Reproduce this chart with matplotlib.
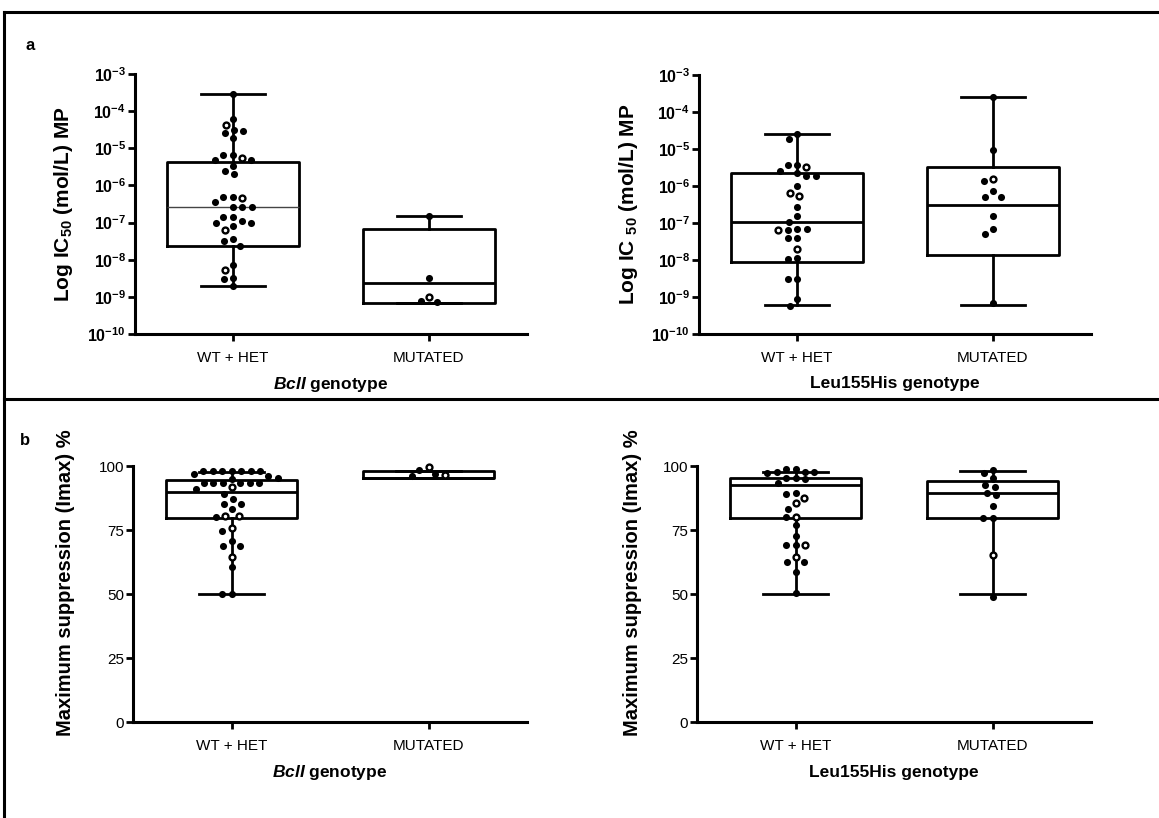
import numpy as np
import matplotlib
matplotlib.use("Agg")
import matplotlib.pyplot as plt
from matplotlib.lines import Line2D

plt.rcParams.update({
    "font.family": ["Liberation Sans", "DejaVu Sans"],
    "mathtext.fontset": "custom",
    "mathtext.rm": "Liberation Sans",
    "mathtext.it": "Liberation Sans:italic",
    "mathtext.bf": "Liberation Sans:bold",
    "mathtext.bfit": "Liberation Sans:bold:italic",
    "mathtext.default": "regular",
})

# ---------------- data ----------------
categories = ["WT + HET", "MUTATED"]
ic50_ticks = [1e-10, 1e-9, 1e-8, 1e-7, 1e-6, 1e-5, 1e-4, 1e-3]
imax_ticks = [0, 25, 50, 75, 100]

# Panel a, BclI genotype: IC50 (mol/L)
bcl_ic50_wt_filled = [2.95e-4, 2.95e-5, 3.16e-5, 2.63e-5, 1.9e-5, 6.3e-5, 6.6e-6, 6.6e-6,
                      4.8e-6, 4.8e-6, 3.4e-6, 2.0e-6, 2.45e-6, 3.6e-7, 4.9e-7, 4.9e-7,
                      2.7e-7, 2.7e-7, 2.7e-7, 1.4e-7, 1.4e-7, 9.5e-8, 8.3e-8, 1.1e-7,
                      1.0e-7, 3.7e-8, 3.2e-8, 2.4e-8, 7.1e-9, 3.3e-9, 3.0e-9, 1.95e-9]
bcl_ic50_wt_open = [4.3e-5, 5.6e-6, 4.7e-7, 6.3e-8, 5.2e-9]
bcl_ic50_mut_filled = [1.5e-7, 3.3e-9, 7.2e-10, 7.6e-10]
bcl_ic50_mut_open = [1.0e-9]
# box stats: whislo, q1, med, q3, whishi
bcl_ic50_wt_box = [1.95e-9, 2.3e-8, 2.6e-7, 4.3e-6, 2.95e-4]
bcl_ic50_mut_box = [6.9e-10, 6.9e-10, 2.3e-9, 6.9e-8, 1.5e-7]

# Panel a, Leu155His genotype: IC50 (mol/L)
leu_ic50_wt_filled = [2.6e-5, 1.86e-5, 3.7e-6, 3.7e-6, 2.6e-6, 1.9e-6, 1.9e-6, 2.2e-6,
                      1.0e-6, 2.7e-7, 1.5e-7, 1.05e-7, 6.9e-8, 6.9e-8, 6.5e-8, 3.9e-8,
                      3.9e-8, 1.1e-8, 1.07e-8, 3.0e-9, 3.0e-9, 8.7e-10, 5.8e-10]
leu_ic50_wt_open = [3.3e-6, 6.6e-7, 5.4e-7, 6.5e-8, 1.95e-8]
leu_ic50_mut_filled = [2.5e-4, 9.3e-6, 1.4e-6, 7.4e-7, 5.1e-7, 5.1e-7, 1.5e-7, 6.9e-8,
                       5.2e-8, 7.1e-10]
leu_ic50_mut_open = [1.55e-6]
leu_ic50_wt_box = [6.0e-10, 9.1e-9, 1.05e-7, 2.3e-6, 2.6e-5]
leu_ic50_mut_box = [6.0e-10, 1.35e-8, 3.1e-7, 3.3e-6, 2.6e-4]

# Panel b, BclI genotype: Imax (%)
bcl_imax_wt_filled = [98, 98, 98, 98, 98, 98, 98, 97, 94.8, 95.4, 96.1, 93.5, 93.5, 93.5,
                      93.5, 93.5, 93.5, 91, 89.1, 87.1, 85.2, 85.2, 83.1, 80, 74.7, 70.8,
                      68.75, 68.75, 60.7, 50, 50]
bcl_imax_wt_open = [91.7, 80.5, 80.5, 75.7, 64.6]
bcl_imax_mut_filled = [96.0, 96.8, 98.5]
bcl_imax_mut_open = [96.5, 99.5]
bcl_imax_wt_box = [50, 79.8, 90, 94.5, 97.8]
bcl_imax_mut_box = [95.2, 95.2, 95.2, 98, 98]

# Panel b, Leu155His genotype: Imax (%)
leu_imax_wt_filled = [97.7, 98.7, 97.7, 98.7, 97.1, 97.7, 95.4, 94.8, 95.4, 93.5, 89.1,
                      89.3, 83.2, 79.9, 77, 72.8, 69.1, 69.1, 62.6, 62.6, 58.5, 50.5]
leu_imax_wt_open = [87.6, 85.4, 80.2, 69.0, 64.3]
leu_imax_mut_filled = [98.4, 95.2, 97.1, 91.9, 92.6, 89.6, 88.7, 84.5, 79.8, 79.8, 49.0]
leu_imax_mut_open = [65.2]
leu_imax_wt_box = [50, 79.8, 92.6, 95.4, 97.8]
leu_imax_mut_box = [50, 79.8, 89.6, 94.1, 98.0]

# ---------------- figure ----------------
W, H = 1159, 818
fig = plt.figure(figsize=(W / 100, H / 100), dpi=100)


def axes_px(x0, x1, ytop, ybot):
    return fig.add_axes([x0 / W, 1 - ybot / H, (x1 - x0) / W, (ybot - ytop) / H])


axA1 = axes_px(135, 527, 74, 334)
axA2 = axes_px(699, 1091, 75, 334)
axB1 = axes_px(133, 527, 466, 722)
axB2 = axes_px(697, 1091, 466, 722)

# frame lines
for (xs, ys) in [((4, W), (12, 12)), ((4, 4), (12, H)), ((4, W), (399, 399))]:
    fig.add_artist(Line2D([x / W for x in xs], [1 - y / H for y in ys],
                          transform=fig.transFigure, color="black", lw=2.2))

fig.text(30 / W, 1 - 45 / H, "a", fontsize=12, fontweight="bold", ha="center", va="center")
fig.text(25 / W, 1 - 440 / H, "b", fontsize=12, fontweight="bold", ha="center", va="center")


def style(ax, log):
    for s in ("top", "right"):
        ax.spines[s].set_visible(False)
    for s in ("left", "bottom"):
        ax.spines[s].set_linewidth(2.2)
    ax.set_xlim(-0.5, 1.5)
    ax.set_xticks([0, 1])
    ax.set_xticklabels(categories, fontsize=11)
    ax.tick_params(axis="x", length=5, width=2, pad=7)
    ax.tick_params(axis="y", length=5, width=2, pad=1.5)
    if log:
        ax.set_yscale("log")
        ax.set_ylim(ic50_ticks[0], ic50_ticks[-1])
        ax.set_yticks(ic50_ticks)
        ax.set_yticklabels([r"$10^{%d}$" % int(round(np.log10(t))) for t in ic50_ticks],
                           fontsize=11.5, fontweight="bold")
        ax.yaxis.set_minor_locator(matplotlib.ticker.NullLocator())
    else:
        ax.set_ylim(imax_ticks[0], imax_ticks[-1])
        ax.set_yticks(imax_ticks)
        ax.set_yticklabels([str(t) for t in imax_ticks], fontsize=11)


def draw_box(ax, pos, stats, med_lw=2.0, med_color="black"):
    lo, q1, med, q3, hi = stats
    ax.bxp([dict(whislo=lo, q1=q1, med=med, q3=q3, whishi=hi, fliers=[])],
           positions=[pos], widths=0.67, capwidths=0.33, showfliers=False,
           boxprops=dict(color="black", lw=2.0),
           whiskerprops=dict(color="black", lw=2.0),
           capprops=dict(color="black", lw=2.0),
           medianprops=dict(color=med_color, lw=med_lw),
           manage_ticks=False)


def swarm(ax, pos, filled, opened, d=9.5, dy_lim=7.0):
    vals = list(filled) + list(opened)
    kinds = [True] * len(filled) + [False] * len(opened)
    pts = ax.transData.transform(np.column_stack([np.full(len(vals), pos), vals]))
    cx = pts[0, 0]
    order = np.argsort(-pts[:, 1])
    placed = []
    xs = np.zeros(len(vals))
    for i in order:
        y = pts[i, 1]
        intervals = []
        for (px, py) in placed:
            dy = abs(py - y)
            if dy < dy_lim:
                half = d * np.sqrt(1 - (dy / dy_lim) ** 2 * 0.5)
                intervals.append((px - half, px + half))
        cands = [0.0] + [e for iv in intervals for e in iv]
        cands.sort(key=lambda c: (abs(c), c))
        chosen = 0.0
        for c in cands:
            if all(not (a + 1e-6 < c < b - 1e-6) for a, b in intervals):
                chosen = c
                break
        placed.append((chosen, y))
        xs[i] = chosen
    for i, v in enumerate(vals):
        xd = ax.transData.inverted().transform((cx + xs[i], pts[i, 1]))[0]
        if kinds[i]:
            ax.scatter([xd], [v], s=26, color="black", zorder=4, clip_on=False, lw=0)
        else:
            ax.scatter([xd], [v], s=18, facecolor="white", edgecolor="black", lw=1.7,
                       zorder=5, clip_on=False)


for ax, log in [(axA1, True), (axA2, True), (axB1, False), (axB2, False)]:
    style(ax, log)

# panel a left
draw_box(axA1, 0, bcl_ic50_wt_box, med_lw=1.0, med_color="#444444")
draw_box(axA1, 1, bcl_ic50_mut_box)
swarm(axA1, 0, bcl_ic50_wt_filled, bcl_ic50_wt_open)
swarm(axA1, 1, bcl_ic50_mut_filled, bcl_ic50_mut_open)
# panel a right
draw_box(axA2, 0, leu_ic50_wt_box)
draw_box(axA2, 1, leu_ic50_mut_box)
swarm(axA2, 0, leu_ic50_wt_filled, leu_ic50_wt_open)
swarm(axA2, 1, leu_ic50_mut_filled, leu_ic50_mut_open)
# panel b left
draw_box(axB1, 0, bcl_imax_wt_box)
draw_box(axB1, 1, bcl_imax_mut_box)
swarm(axB1, 0, bcl_imax_wt_filled, bcl_imax_wt_open)
swarm(axB1, 1, bcl_imax_mut_filled, bcl_imax_mut_open)
# panel b right
draw_box(axB2, 0, leu_imax_wt_box)
draw_box(axB2, 1, leu_imax_mut_box)
swarm(axB2, 0, leu_imax_wt_filled, leu_imax_wt_open)
swarm(axB2, 1, leu_imax_mut_filled, leu_imax_mut_open)

# labels
axA1.set_ylabel(r"Log IC$_{50}$ (mol/L) MP", fontsize=15, fontweight="bold")
axA1.yaxis.set_label_coords(-0.153, 0.5)
axA2.set_ylabel(r"Log IC $_{50}$ (mol/L) MP", fontsize=15, fontweight="bold")
axA2.yaxis.set_label_coords(-0.15, 0.5)
for ax, xc in [(axB1, -0.147), (axB2, -0.14)]:
    ax.set_ylabel("Maximum suppression (Imax) %", fontsize=14.5, fontweight="bold")
    ax.yaxis.set_label_coords(xc, 0.543)

axA1.set_xlabel(r"$\mathbfit{BclI}$ genotype", fontsize=12.5, fontweight="bold", va="center")
axA2.set_xlabel("Leu155His genotype", fontsize=12.5, fontweight="bold", va="center")
axB1.set_xlabel(r"$\mathbfit{BclI}$ genotype", fontsize=12.5, fontweight="bold", va="center")
axB2.set_xlabel("Leu155His genotype", fontsize=12.5, fontweight="bold", va="center")
for ax in (axA1, axA2):
    ax.xaxis.set_label_coords(0.5, -(384 - 334) / 260)
for ax in (axB1, axB2):
    ax.xaxis.set_label_coords(0.5, -(773 - 722) / 256)

fig.savefig("out.png", dpi=100, facecolor="white")
